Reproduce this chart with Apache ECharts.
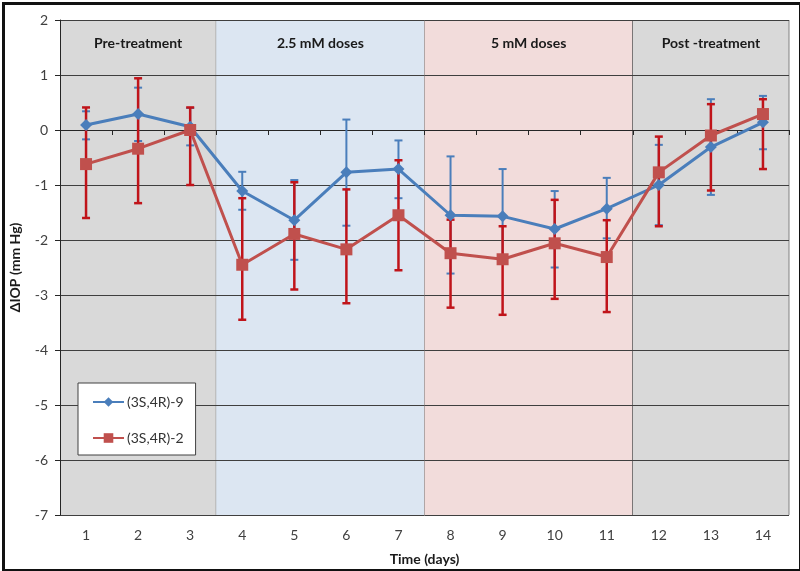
<!DOCTYPE html>
<html>
<head>
<meta charset="utf-8">
<script src="https://cdn.jsdelivr.net/npm/echarts@6/dist/echarts.min.js"></script>
<style>html,body{margin:0;padding:0;background:#fff}#c{width:800px;height:571px}</style>
</head>
<body>
<div id="c"></div>
<script>
var days = ['1','2','3','4','5','6','7','8','9','10','11','12','13','14'];
var yTicks = [-7,-6,-5,-4,-3,-2,-1,0,1,2];
var s9 = [0.09,0.29,0.06,-1.11,-1.64,-0.77,-0.71,-1.55,-1.57,-1.80,-1.43,-1.00,-0.31,0.14];
var s9Low = [-0.17,-0.20,-0.28,-1.45,-2.36,-1.74,-1.24,-2.61,-2.43,-2.50,-1.97,-1.73,-1.18,-0.35];
var s9High = [0.34,0.77,0.40,-0.76,-0.91,0.19,-0.19,-0.48,-0.71,-1.11,-0.87,-0.27,0.56,0.62];
var s2 = [-0.62,-0.34,0.00,-2.45,-1.89,-2.17,-1.55,-2.24,-2.35,-2.06,-2.31,-0.77,-0.10,0.29];
var s2Low = [-1.60,-1.33,-1.00,-3.45,-2.90,-3.15,-2.55,-3.23,-3.36,-3.07,-3.31,-1.75,-1.10,-0.71];
var s2High = [0.41,0.94,0.41,-1.24,-0.95,-1.08,-0.55,-1.63,-1.75,-1.27,-1.64,-0.12,0.47,0.56];
var seriesNames = ['(3S,4R)-9','(3S,4R)-2'];
var bandLabels = ['Pre-treatment','2.5 mM doses','5 mM doses','Post -treatment'];
var bandStart = [0,3,7,11];
var bandEnd = [2,6,10,13];

var bandColors = ['#d9d9d9','#dce6f2','#f2dcdb','#d9d9d9'];
var sepColors = ['#808080','#6f6f6f','#262626','#808080'];
var FONT = 'Lato';

var chart = echarts.init(document.getElementById('c'), null, {renderer:'canvas'});

var bandData = bandLabels.map(function(l,i){ return [bandStart[i], bandEnd[i], yTicks[yTicks.length-1], yTicks[0], i]; });

function errData(low, high){ return days.map(function(d,i){ return [i, low[i], high[i]]; }); }

function errRender(color, lw){
  return function(params, api){
    var x = api.value(0);
    var lo = api.coord([x, api.value(1)]);
    var hi = api.coord([x, api.value(2)]);
    var cw = 4;
    var st = {stroke: color, lineWidth: lw};
    return {type:'group', children:[
      {type:'line', shape:{x1:lo[0],y1:lo[1],x2:hi[0],y2:hi[1]}, style:st},
      {type:'line', shape:{x1:lo[0]-cw,y1:lo[1],x2:lo[0]+cw,y2:lo[1]}, style:st},
      {type:'line', shape:{x1:hi[0]-cw,y1:hi[1],x2:hi[0]+cw,y2:hi[1]}, style:st}
    ]};
  };
}

var option = {
  backgroundColor:'#ffffff',
  animation:false,
  textStyle:{fontFamily:FONT},
  grid:{left:57, right:11, top:20, bottom:51},
  legend:{
    data:seriesNames,
    orient:'vertical', left:78, top:383,
    backgroundColor:'#ffffff', borderColor:'#404040', borderWidth:1,
    padding:[12,12,10,14], itemGap:22, itemWidth:31, itemHeight:12,
    textStyle:{fontFamily:FONT, fontSize:14, color:'#333333', padding:[0,0,0,-2]},
    z:10
  },
  xAxis:{
    type:'category', data:days, boundaryGap:true,
    name:'Time (days)', nameLocation:'middle', nameGap:37,
    nameTextStyle:{fontFamily:FONT, fontWeight:'bold', fontSize:14, color:'#1a1a1a'},
    axisLine:{lineStyle:{color:'#262626', width:1}},
    axisTick:{show:true, length:5, lineStyle:{color:'#262626'}},
    axisLabel:{fontFamily:FONT, fontSize:14, color:'#404040', margin:13},
    splitLine:{show:false}
  },
  yAxis:{
    type:'value', min:-7, max:2, interval:1,
    name:'\u0394IOP (mm Hg)', nameLocation:'middle', nameGap:38, nameRotate:90,
    nameTextStyle:{fontFamily:FONT, fontWeight:'bold', fontSize:14, color:'#1a1a1a'},
    axisLine:{show:true, lineStyle:{color:'#262626', width:1}},
    axisTick:{show:true, length:5, lineStyle:{color:'#262626'}},
    axisLabel:{fontFamily:FONT, fontSize:14, color:'#404040', margin:12},
    splitLine:{show:true, lineStyle:{color:'#3f3f3f', width:1}}
  },
  graphic:[{
    type:'rect', left:1, top:1, shape:{x:0,y:0,width:797,height:567},
    style:{fill:'none', stroke:'#111', lineWidth:3}, z:100
  }],
  series:[
    {
      type:'custom', name:'bands', z:-1, silent:true,
      data:bandData,
      encode:{x:[0,1], y:[2,3]},
      renderItem:function(params, api){
        var s = api.coord([api.value(0), api.value(2)]);
        var e = api.coord([api.value(1), api.value(3)]);
        var bw = api.size([1,0])[0];
        var x0 = s[0]-bw/2, x1 = e[0]+bw/2;
        var i = api.value(4);
        return {type:'group', children:[
          {type:'rect', shape:{x:x0, y:s[1], width:x1-x0, height:e[1]-s[1]}, style:{fill:bandColors[i]}},
          {type:'line', shape:{x1:x1, y1:s[1], x2:x1, y2:e[1]}, style:{stroke: sepColors[i], lineWidth:1}},
          {type:'text', style:{text:bandLabels[i], x:(x0+x1)/2, y:s[1]+23, align:'center', verticalAlign:'middle',
            fontFamily:FONT, fontWeight:'bold', fontSize:14, fill:'#1a1a1a'}}
        ]};
      }
    },
    {
      type:'custom', name:'err9', z:3, silent:true,
      data:errData(s9Low, s9High), encode:{x:0, y:[1,2]},
      renderItem:errRender('#4a7ebb', 2)
    },
    {
      type:'custom', name:'err2', z:3, silent:true,
      data:errData(s2Low, s2High), encode:{x:0, y:[1,2]},
      renderItem:errRender('#c0141a', 2.5)
    },
    {
      type:'line', name:seriesNames[0], data:s9, z:4,
      symbol:'diamond', symbolSize:12, showAllSymbol:true,
      itemStyle:{color:'#4a7ebb'}, lineStyle:{color:'#4a7ebb', width:3}
    },
    {
      type:'line', name:seriesNames[1], data:s2, z:5,
      symbol:'rect', symbolSize:12, showAllSymbol:true,
      itemStyle:{color:'#c0504d'}, lineStyle:{color:'#c0504d', width:3}
    }
  ]
};
chart.setOption(option);
</script>
</body>
</html>
